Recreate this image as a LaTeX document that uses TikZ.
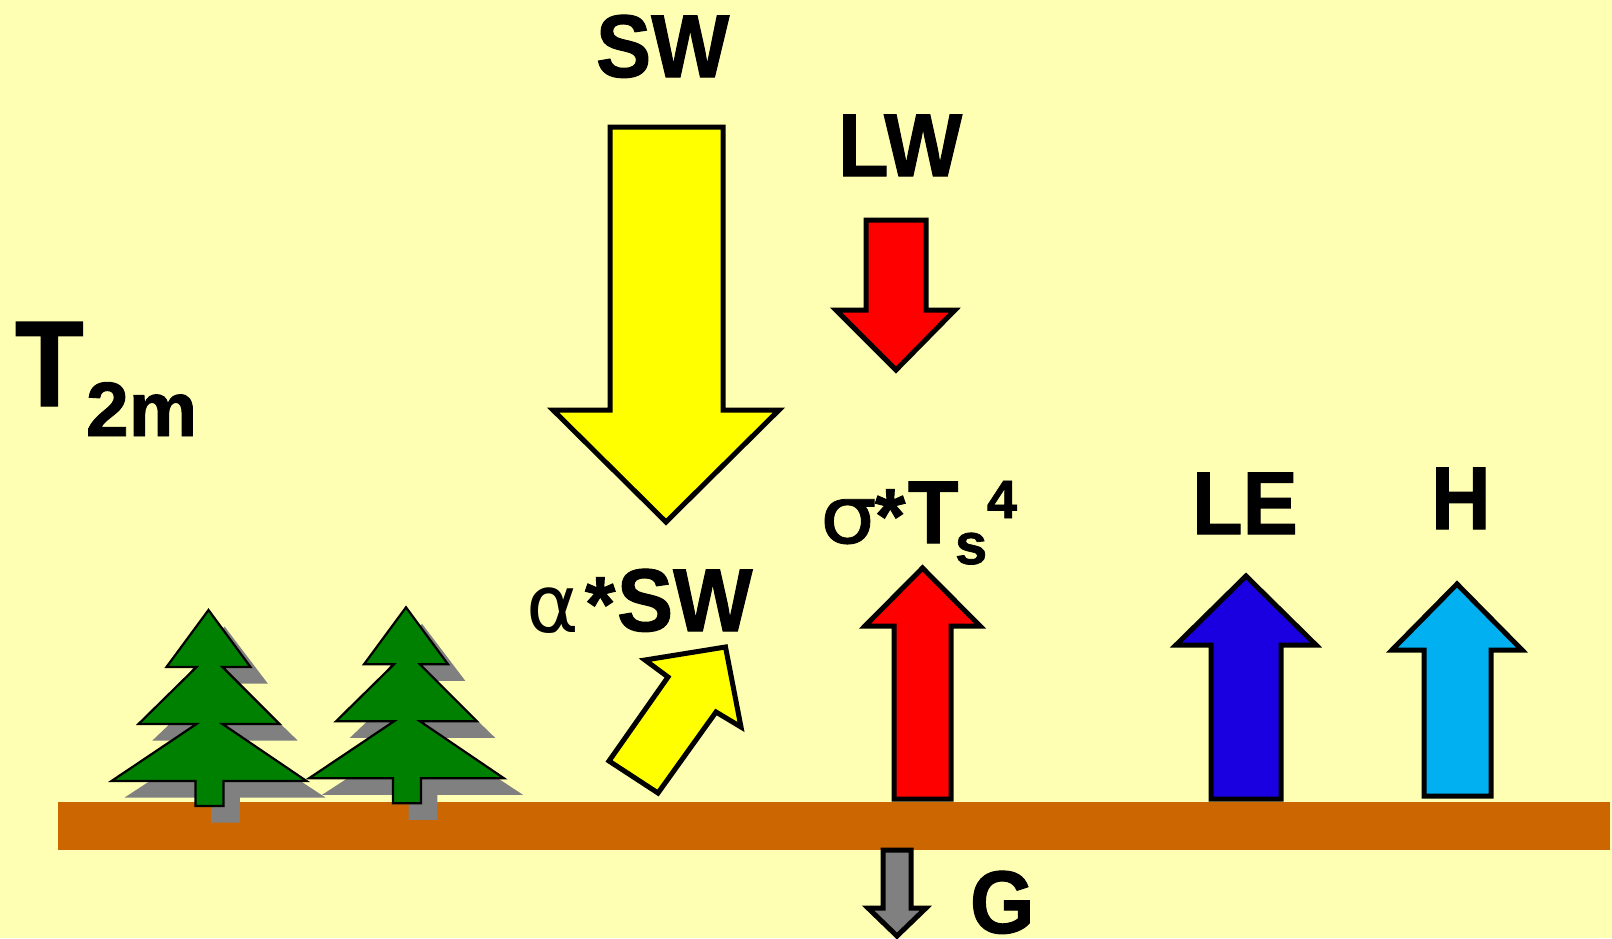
\documentclass[tikz,border=0pt]{standalone}
\usepackage{fontspec}
\setmainfont{Liberation Sans}[BoldFeatures={FakeBold=1.2}]
\newfontfamily\greekfont{DejaVu Sans}
\newfontfamily\greekheavy{DejaVu Sans}[FakeBold=1]
\definecolor{skycream}{HTML}{FFFFB3}
\definecolor{soil}{HTML}{CC6600}
\definecolor{needle}{HTML}{008000}
\definecolor{fluxyellow}{HTML}{FFFF00}
\definecolor{fluxred}{HTML}{FF0000}
\definecolor{fluxblue}{HTML}{1A00E0}
\definecolor{fluxcyan}{HTML}{00B0F0}
\definecolor{midgray}{HTML}{808080}
\newcommand{\fs}[1]{\fontsize{#1}{#1}\selectfont}
\newcommand{\narrow}[3][.93]{\fs{#2}\scalebox{#1}[1]{#3}}
\newcommand{\conifer}{(0,0) -- (42,57) -- (14,57) -- (71,114) -- (14,114) -- (98,171) -- (15,171) -- (15,196)
  -- (-13,196) -- (-13,171) -- (-97,171) -- (-12,114) -- (-70,114) -- (-12,57) -- (-42,57) -- cycle}
\tikzset{
  flux/.style={draw=black,line width=5,miter limit=10,line join=miter},
  label/.style={inner sep=0,outer sep=0,anchor=base west,text=black,font=\bfseries},
  shadowpart/.style={fill=midgray},
  treepart/.style={fill=needle,draw=black,line width=2.2,miter limit=10}
}
\begin{document}
\begin{tikzpicture}[x=1pt,y=-1pt]
  \useasboundingbox (0,0) rectangle (1612,938);
  \fill[skycream] (0,0) rectangle (1612,938);

  % soil strip
  \fill[soil] (58,802) rectangle (1610,850);

  % trees: cast shadow first, crown on top
  \foreach \tx/\ty in {208.5/610,406/607.3}{
    \fill[shadowpart,shift={(\tx+16,\ty+16.5)},xscale=1.03] \conifer;
  }
  \foreach \tx/\ty in {208.5/610,406/607.3}{
    \filldraw[treepart,shift={(\tx,\ty)}] \conifer;
  }

  % downward radiation
  \draw[flux,fill=fluxyellow] (610,127) -- (723,127) -- (723,410) -- (779,410) -- (666,522) -- (553,410) -- (610,410) -- cycle;
  \draw[flux,fill=fluxred] (866,220) -- (926,220) -- (926,310) -- (955,310) -- (896,370) -- (836,310) -- (866,310) -- cycle;

  % reflected shortwave
  \draw[flux,fill=fluxyellow] (725.5,647) -- (741,727) -- (716,712) -- (658,793) -- (609,761) -- (668,677) -- (645,660) -- cycle;

  % upward fluxes
  \draw[flux,fill=fluxred] (922.5,568) -- (980,626) -- (951,626) -- (951,799) -- (894,799) -- (894,626) -- (865,626) -- cycle;
  \draw[flux,fill=fluxblue] (1246,576) -- (1316,645) -- (1281,645) -- (1281,799) -- (1211,799) -- (1211,645) -- (1176,645) -- cycle;
  \draw[flux,fill=fluxcyan] (1457,584) -- (1522,650) -- (1491,650) -- (1491,796) -- (1424,796) -- (1424,650) -- (1392,650) -- cycle;

  % ground heat flux
  \draw[flux,fill=midgray] (883,850) -- (911,850) -- (911,908) -- (926,908) -- (897,936) -- (868,908) -- (883,908) -- cycle;

  % labels
  \node[label] (sw) at (596,77) {\narrow{89}{SW}};
  \node[label] (lw) at (838,176) {\narrow{89}{LW}};
  \node[label] (tair) at (15,406) {\narrow[.92]{122}{T}};
  \node[label] (tsub) at (86,436) {\fs{77}2m};
  \node[label] (le) at (1192,534) {\narrow{89}{LE}};
  \node[label] (h) at (1431,529) {\narrow{89}{H}};
  \node[label] (g) at (970,933) {\narrow{89}{G}};

  \node[label] (sigma) at (820,543) {\greekheavy\mdseries\fs{80}\scalebox{1.12}[1]{σ}};
  \node[label] (star1) at (875,543) {\fs{78}*};
  \node[label] (ts) at (908,543) {\narrow{89}{T}};
  \node[label] (tss) at (955,564) {\fs{58}s};
  \node[label] (ts4) at (987,518) {\fs{54}4};

  \node[label] (alpha) at (526,632) {\greekfont\mdseries\fs{80}α};
  \node[label] (star2) at (585,631) {\fs{78}*};
  \node[label] (sw2) at (617,631) {\narrow[.945]{89}{SW}};
\end{tikzpicture}
\end{document}
